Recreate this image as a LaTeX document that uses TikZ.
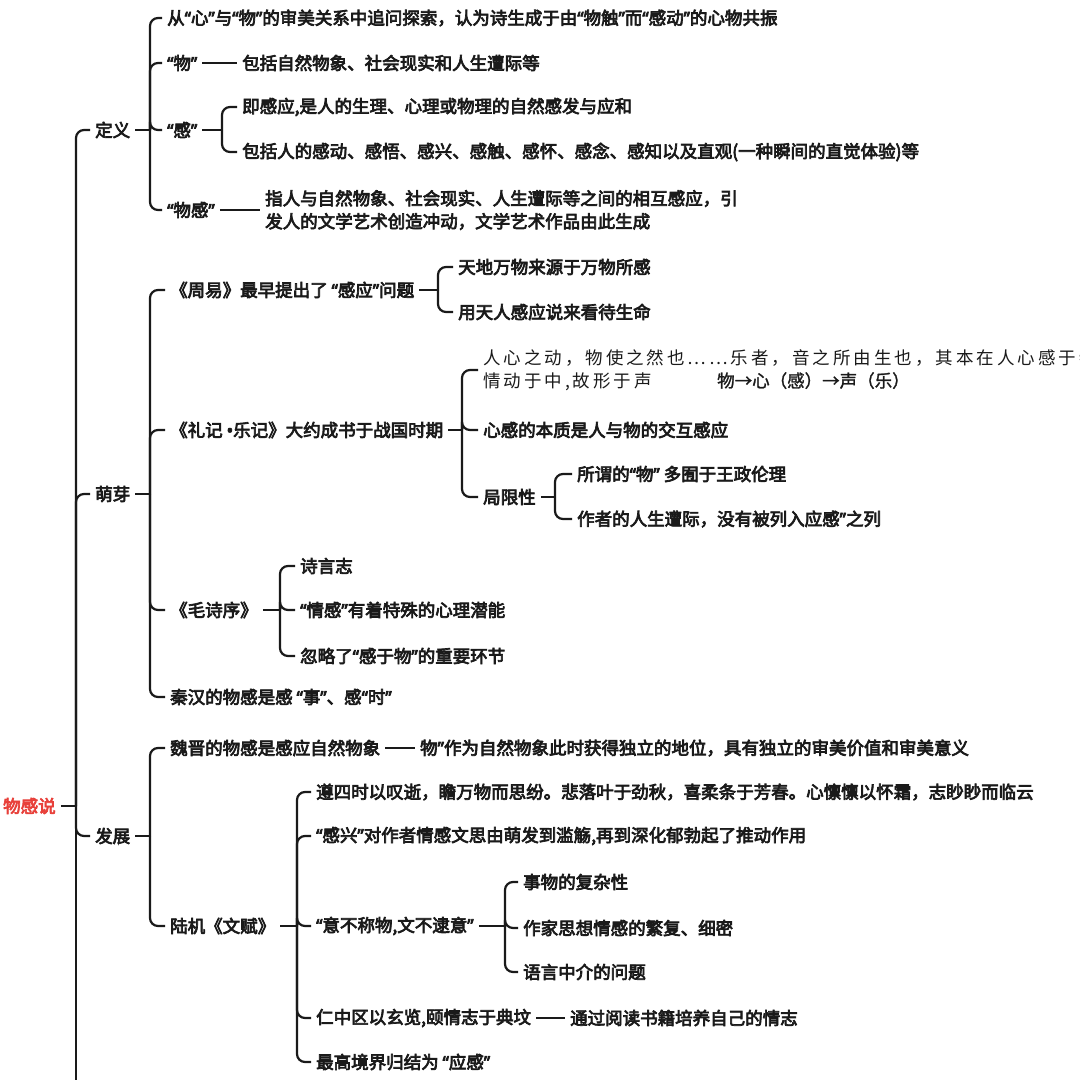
\documentclass[tikz,border=0pt]{standalone}
\usepackage{fontspec}
\setmainfont{Noto Sans CJK SC}[FakeBold=4]
\newfontfamily\handfont{Noto Sans CJK SC}[LetterSpace=17]
\newfontfamily\regfont{Noto Sans CJK SC}[FakeBold=1.5]
\newfontfamily\qf{Noto Sans}[FakeBold=4]
\newcommand\qo{{\qf “}}
\newcommand\qc{{\qf ”}}
\usetikzlibrary{calc}
\definecolor{ink}{HTML}{1A1A1A}
\definecolor{rootred}{HTML}{E8403A}
\tikzset{
  txt/.style={anchor=west, inner xsep=5pt, inner ysep=2pt, text=ink,
    font=\fontsize{17.5}{23}\selectfont, align=left},
  link/.style={draw=ink, line width=2.2pt, rounded corners=8pt},
}
\begin{document}
\begin{tikzpicture}[x=1pt,y=1pt]
\useasboundingbox[fill=white] (0,0) rectangle (1080,-1080);

% root
\node[txt, text=rootred] (root) at (-2,-806) {物感说};
\coordinate (rb) at (76,-806);
\coordinate (rbend) at (76,-1100);

% level 1
\node[txt] (dingyi) at (90,-130) {定义};
\node[txt] (mengya) at (90,-494) {萌芽};
\node[txt] (fazhan) at (90,-836) {发展};

% 定义
\coordinate (b1) at (150,-130);
\node[txt] (d1) at (162,-18) {从\qo 心\qc 与\qo 物\qc 的审美关系中追问探索，认为诗生成于由\qo 物触\qc 而\qo 感动\qc 的心物共振};
\node[txt] (wu) at (162,-63) {\qo 物\qc};
\node[txt] (wuc) at (237,-63) {包括自然物象、社会现实和人生遭际等};
\node[txt] (gan) at (162,-130) {\qo 感\qc};
\coordinate (b2) at (222,-130);
\node[txt] (g1) at (237,-107) {即感应,是人的生理、心理或物理的自然感发与应和};
\node[txt] (g2) at (237,-152) {包括人的感动、感悟、感兴、感触、感怀、感念、感知以及直观(一种瞬间的直觉体验)等};
\node[txt] (wugan) at (162,-210) {\qo 物感\qc};
\node[txt] (wgc) at (260,-210) {指人与自然物象、社会现实、人生遭际等之间的相互感应，引\\发人的文学艺术创造冲动，文学艺术作品由此生成};

% 萌芽
\coordinate (b3) at (150,-494);
\node[txt] (zy) at (165,-290) {《周易》最早提出了 \qo 感应\qc 问题};
\coordinate (b4) at (438,-290);
\node[txt] (zy1) at (453,-267) {天地万物来源于万物所感};
\node[txt] (zy2) at (453,-312) {用天人感应说来看待生命};
\node[txt] (lj) at (165,-430) {《礼记 {\qf •}乐记》大约成书于战国时期};
\coordinate (b5) at (462,-430);
\node[txt] (lj1) at (478,-370) {{\handfont 人心之动，物使之然也……乐者，音之所由生也，其本在人心感于物}\\\makebox[234pt][l]{\handfont 情动于中,故形于声}{\regfont 物→心（感）→声（乐）}};
\node[txt] (lj2) at (478,-430) {心感的本质是人与物的交互感应};
\node[txt] (jxx) at (478,-497) {局限性};
\coordinate (b6) at (555,-497);
\node[txt] (jx1) at (572,-474) {所谓的\qo 物\qc\ 多囿于王政伦理};
\node[txt] (jx2) at (572,-519) {作者的人生遭际，没有被列入应感\qc 之列};
\node[txt] (mss) at (165,-610) {《毛诗序》};
\coordinate (b7) at (280,-610);
\node[txt] (ms1) at (295,-566) {诗言志};
\node[txt] (ms2) at (295,-610) {\qo 情感\qc 有着特殊的心理潜能};
\node[txt] (ms3) at (295,-656) {忽略了\qo 感于物\qc 的重要环节};
\node[txt] (qh) at (165,-697) {秦汉的物感是感 \qo 事\qc 、感\qo 时\qc};

% 发展
\coordinate (b8) at (150,-836);
\node[txt] (wj) at (165,-748) {魏晋的物感是感应自然物象};
\node[txt] (wjc) at (415,-748) {物\qc 作为自然物象此时获得独立的地位，具有独立的审美价值和审美意义};
\node[txt] (lw) at (165,-926) {陆机《文赋》};
\coordinate (b9) at (297,-926);
\node[txt] (lw1) at (311,-792) {遵四时以叹逝，瞻万物而思纷。悲落叶于劲秋，喜柔条于芳春。心懔懔以怀霜，志眇眇而临云};
\node[txt] (lw2) at (311,-836) {\qo 感兴\qc 对作者情感文思由萌发到滥觞,再到深化郁勃起了推动作用};
\node[txt] (lw3) at (311,-926) {\qo 意不称物,文不逮意\qc};
\coordinate (b10) at (505,-926);
\node[txt] (yb1) at (518,-882) {事物的复杂性};
\node[txt] (yb2) at (518,-928) {作家思想情感的繁复、细密};
\node[txt] (yb3) at (518,-972) {语言中介的问题};
\node[txt] (lw4) at (311,-1018) {仁中区以玄览,颐情志于典坟};
\node[txt] (lw4c) at (565,-1018) {通过阅读书籍培养自己的情志};
\node[txt] (lw5) at (311,-1062) {最高境界归结为 \qo 应感\qc};

% connectors
\draw[link] (root.east) -- (rb);
\foreach \c in {dingyi,mengya,fazhan} \draw[link] (rb) |- (\c.west);
\draw[link] (rb) -- (rbend);

\draw[link] (dingyi.east) -- (b1);
\foreach \c in {d1,wu,gan,wugan} \draw[link] (b1) |- (\c.west);
\draw[link] (wu.east) -- (wuc.west);
\draw[link] (gan.east) -- (b2);
\foreach \c in {g1,g2} \draw[link] (b2) |- (\c.west);
\draw[link] (wugan.east) -- (wgc.west);

\draw[link] (mengya.east) -- (b3);
\foreach \c in {zy,lj,mss,qh} \draw[link] (b3) |- (\c.west);
\draw[link] (zy.east) -- (b4);
\foreach \c in {zy1,zy2} \draw[link] (b4) |- (\c.west);
\draw[link] (lj.east) -- (b5);
\foreach \c in {lj1,lj2,jxx} \draw[link] (b5) |- (\c.west);
\draw[link] (jxx.east) -- (b6);
\foreach \c in {jx1,jx2} \draw[link] (b6) |- (\c.west);
\draw[link] (mss.east) -- (b7);
\foreach \c in {ms1,ms2,ms3} \draw[link] (b7) |- (\c.west);

\draw[link] (fazhan.east) -- (b8);
\foreach \c in {wj,lw} \draw[link] (b8) |- (\c.west);
\draw[link] (wj.east) -- (wjc.west);
\draw[link] (lw.east) -- (b9);
\foreach \c in {lw1,lw2,lw3,lw4,lw5} \draw[link] (b9) |- (\c.west);
\draw[link] (lw3.east) -- (b10);
\foreach \c in {yb1,yb2,yb3} \draw[link] (b10) |- (\c.west);
\draw[link] (lw4.east) -- (lw4c.west);
\end{tikzpicture}
\end{document}
